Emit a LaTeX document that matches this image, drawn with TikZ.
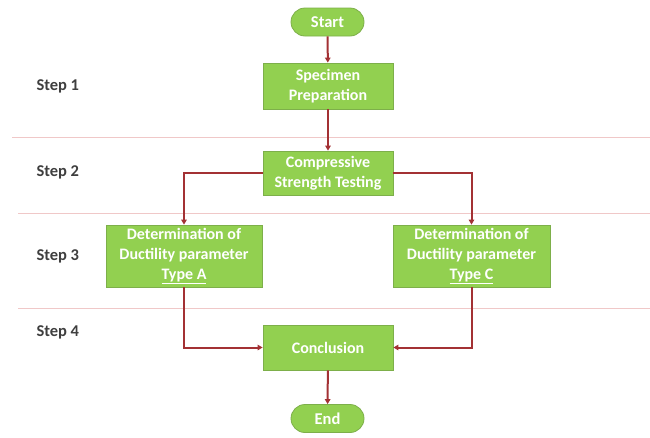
\documentclass[tikz,border=0pt]{standalone}
\usepackage{fontspec}
\setmainfont{Carlito}
\usetikzlibrary{arrows.meta,shapes.misc}
\definecolor{boxgreen}{HTML}{92D050}
\definecolor{boxedge}{HTML}{7DAF4A}
\definecolor{arrred}{HTML}{A33134}
\definecolor{sepline}{HTML}{F0C8C8}
\definecolor{steptext}{HTML}{3F3F3F}
\tikzset{
  procbox/.style={draw=boxedge, line width=0.8pt, fill=boxgreen, text=white,
    font=\fontsize{16}{19.5}\selectfont\bfseries, align=center, inner sep=0pt},
  termbox/.style={rounded rectangle, draw=boxedge, line width=0.8pt, fill=boxgreen, text=white,
    font=\fontsize{16.5}{19}\selectfont\bfseries, minimum width=73pt, minimum height=28pt, inner sep=0pt},
  flow/.style={draw=arrred, line width=2pt, -{Triangle[length=5pt,width=5.5pt]}},
  sep/.style={draw=sepline, line width=0.8pt},
  steplabel/.style={text=steptext, font=\fontsize{16.5}{19}\selectfont\bfseries, anchor=west}
}
\begin{document}
\begin{tikzpicture}[x=1pt,y=-1pt]
\useasboundingbox (0,0) rectangle (650,437);
% separators
\draw[sep] (12,137) -- (650,137);
\draw[sep] (18,213) -- (650,213);
\draw[sep] (18,308) -- (650,308);
% step labels
\node[steplabel] (s1) at (33,86) {Step 1};
\node[steplabel] (s2) at (33,172) {Step 2};
\node[steplabel] (s3) at (33,256) {Step 3};
\node[steplabel] (s4) at (33,332) {Step 4};
% nodes
\node[termbox] (start) at (327.5,22) {Start};
\node[procbox, minimum width=130pt, minimum height=46pt] (prep) at (328,86) {Specimen\\Preparation};
\node[procbox, minimum width=130pt, minimum height=44pt] (comp) at (328,173) {Compressive\\Strength Testing};
\node[procbox, minimum width=156pt, minimum height=62pt, font=\fontsize{16}{20}\selectfont\bfseries] (typea) at (184,256) {Determination of\\Ductility parameter\\\underline{Type A}};
\node[procbox, minimum width=157pt, minimum height=62pt, font=\fontsize{16}{20}\selectfont\bfseries] (typec) at (471.5,256) {Determination of\\Ductility parameter\\\underline{Type C}};
\node[procbox, minimum width=130pt, minimum height=45pt] (concl) at (328,347.5) {Conclusion};
\node[termbox] (end) at (327.5,418.5) {End};
% connectors
\draw[flow] (start) -- (prep);
\draw[flow] (prep) -- (comp);
\draw[flow] (comp.west) -| (typea.north);
\draw[flow] (comp.east) -| (typec.north);
\draw[flow] (typea.south) |- (concl.west);
\draw[flow] (typec.south) |- (concl.east);
\draw[flow] (concl) -- (end);
\end{tikzpicture}
\end{document}
